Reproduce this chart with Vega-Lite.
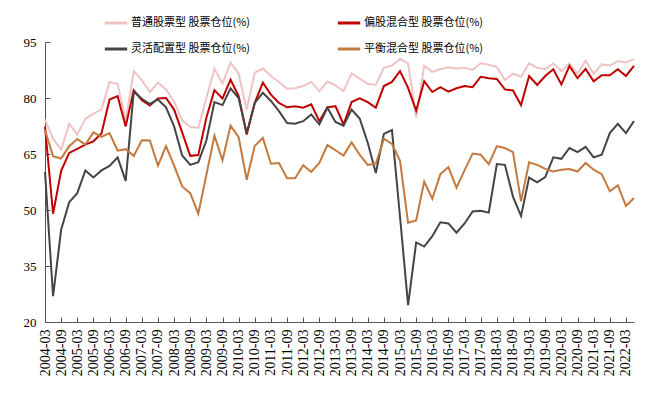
{
  "$schema": "https://vega.github.io/schema/vega-lite/v6.json",
  "width": 589,
  "height": 280,
  "autosize": {"type": "none"},
  "padding": {"left": 45, "top": 42, "right": 25, "bottom": 74},
  "background": "white",
  "data": {"values": [
    {"date":"2004-03","普通股票型":74.2,"偏股混合型":72.3,"灵活配置型":60.2,"平衡混合型":71.4},
    {"date":"2004-06","普通股票型":69.1,"偏股混合型":49.0,"灵活配置型":26.9,"平衡混合型":64.4},
    {"date":"2004-09","普通股票型":66.2,"偏股混合型":60.5,"灵活配置型":44.7,"平衡混合型":63.8},
    {"date":"2004-12","普通股票型":73.1,"偏股混合型":65.3,"灵活配置型":52.1,"平衡混合型":67.1},
    {"date":"2005-03","普通股票型":70.2,"偏股混合型":66.4,"灵活配置型":54.5,"平衡混合型":69.0},
    {"date":"2005-06","普通股票型":74.4,"偏股混合型":67.5,"灵活配置型":60.6,"平衡混合型":67.5},
    {"date":"2005-09","普通股票型":75.8,"偏股混合型":68.4,"灵活配置型":58.7,"平衡混合型":70.8},
    {"date":"2005-12","普通股票型":76.9,"偏股混合型":70.5,"灵活配置型":60.6,"平衡混合型":69.6},
    {"date":"2006-03","普通股票型":84.3,"偏股混合型":79.6,"灵活配置型":61.8,"平衡混合型":70.6},
    {"date":"2006-06","普通股票型":83.8,"偏股混合型":80.5,"灵活配置型":64.1,"平衡混合型":65.9},
    {"date":"2006-09","普通股票型":74.0,"偏股混合型":72.4,"灵活配置型":57.8,"平衡混合型":66.3},
    {"date":"2006-12","普通股票型":87.2,"偏股混合型":82.1,"灵活配置型":81.7,"平衡混合型":64.5},
    {"date":"2007-03","普通股票型":84.8,"偏股混合型":79.4,"灵活配置型":79.8,"平衡混合型":68.7},
    {"date":"2007-06","普通股票型":81.6,"偏股混合型":78.0,"灵活配置型":78.4,"平衡混合型":68.6},
    {"date":"2007-09","普通股票型":84.1,"偏股混合型":79.9,"灵活配置型":79.6,"平衡混合型":61.9},
    {"date":"2007-12","普通股票型":82.3,"偏股混合型":80.0,"灵活配置型":77.5,"平衡混合型":67.1},
    {"date":"2008-03","普通股票型":79.1,"偏股混合型":76.9,"灵活配置型":72.4,"平衡混合型":61.9},
    {"date":"2008-06","普通股票型":74.0,"偏股混合型":70.8,"灵活配置型":64.6,"平衡混合型":56.3},
    {"date":"2008-09","普通股票型":72.3,"偏股混合型":64.5,"灵活配置型":62.1,"平衡混合型":54.5},
    {"date":"2008-12","普通股票型":72.0,"偏股混合型":64.7,"灵活配置型":62.8,"平衡混合型":49.0},
    {"date":"2009-03","普通股票型":80.0,"偏股混合型":74.7,"灵活配置型":68.6,"平衡混合型":59.4},
    {"date":"2009-06","普通股票型":87.8,"偏股混合型":82.1,"灵活配置型":78.9,"平衡混合型":69.9},
    {"date":"2009-09","普通股票型":83.9,"偏股混合型":79.9,"灵活配置型":78.1,"平衡混合型":63.3},
    {"date":"2009-12","普通股票型":89.5,"偏股混合型":84.9,"灵活配置型":82.6,"平衡混合型":72.6},
    {"date":"2010-03","普通股票型":86.5,"偏股混合型":80.5,"灵活配置型":80.0,"平衡混合型":69.5},
    {"date":"2010-06","普通股票型":76.9,"偏股混合型":70.2,"灵活配置型":70.6,"平衡混合型":58.1},
    {"date":"2010-09","普通股票型":86.8,"偏股混合型":78.7,"灵活配置型":78.7,"平衡混合型":67.2},
    {"date":"2010-12","普通股票型":87.9,"偏股混合型":84.1,"灵活配置型":81.4,"平衡混合型":69.3},
    {"date":"2011-03","普通股票型":85.9,"偏股混合型":80.9,"灵活配置型":79.2,"平衡混合型":62.4},
    {"date":"2011-06","普通股票型":84.3,"偏股混合型":78.7,"灵活配置型":76.5,"平衡混合型":62.6},
    {"date":"2011-09","普通股票型":82.5,"偏股混合型":77.5,"灵活配置型":73.3,"平衡混合型":58.5},
    {"date":"2011-12","普通股票型":82.6,"偏股混合型":77.8,"灵活配置型":73.1,"平衡混合型":58.5},
    {"date":"2012-03","普通股票型":83.2,"偏股混合型":77.4,"灵活配置型":73.8,"平衡混合型":62.0},
    {"date":"2012-06","普通股票型":84.3,"偏股混合型":78.3,"灵活配置型":75.6,"平衡混合型":60.2},
    {"date":"2012-09","普通股票型":81.8,"偏股混合型":73.8,"灵活配置型":72.9,"平衡混合型":62.6},
    {"date":"2012-12","普通股票型":84.4,"偏股混合型":77.5,"灵活配置型":77.4,"平衡混合型":67.4},
    {"date":"2013-03","普通股票型":83.4,"偏股混合型":77.8,"灵活配置型":73.6,"平衡混合型":66.0},
    {"date":"2013-06","普通股票型":81.8,"偏股混合型":72.9,"灵活配置型":72.6,"平衡混合型":64.6},
    {"date":"2013-09","普通股票型":86.6,"偏股混合型":78.9,"灵活配置型":76.9,"平衡混合型":68.1},
    {"date":"2013-12","普通股票型":85.2,"偏股混合型":79.9,"灵活配置型":74.5,"平衡混合型":64.8},
    {"date":"2014-03","普通股票型":83.8,"偏股混合型":78.9,"灵活配置型":68.0,"平衡混合型":62.1},
    {"date":"2014-06","普通股票型":83.5,"偏股混合型":77.4,"灵活配置型":59.9,"平衡混合型":62.4},
    {"date":"2014-09","普通股票型":88.1,"偏股混合型":83.2,"灵活配置型":70.4,"平衡混合型":69.1},
    {"date":"2014-12","普通股票型":88.7,"偏股混合型":84.3,"灵活配置型":71.4,"平衡混合型":67.7},
    {"date":"2015-03","普通股票型":90.5,"偏股混合型":87.2,"灵活配置型":48.2,"平衡混合型":63.2},
    {"date":"2015-06","普通股票型":89.3,"偏股混合型":82.7,"灵活配置型":24.5,"平衡混合型":46.6},
    {"date":"2015-09","普通股票型":74.8,"偏股混合型":76.6,"灵活配置型":41.3,"平衡混合型":47.2},
    {"date":"2015-12","普通股票型":88.6,"偏股混合型":84.5,"灵活配置型":40.2,"平衡混合型":57.6},
    {"date":"2016-03","普通股票型":87.0,"偏股混合型":81.6,"灵活配置型":43.0,"平衡混合型":53.0},
    {"date":"2016-06","普通股票型":87.7,"偏股混合型":82.9,"灵活配置型":46.7,"平衡混合型":59.6},
    {"date":"2016-09","普通股票型":88.2,"偏股混合型":81.7,"灵活配置型":46.4,"平衡混合型":61.5},
    {"date":"2016-12","普通股票型":87.9,"偏股混合型":82.6,"灵活配置型":43.9,"平衡混合型":56.0},
    {"date":"2017-03","普通股票型":88.1,"偏股混合型":83.2,"灵活配置型":46.4,"平衡混合型":60.6},
    {"date":"2017-06","普通股票型":87.5,"偏股混合型":82.9,"灵活配置型":49.6,"平衡混合型":65.1},
    {"date":"2017-09","普通股票型":89.3,"偏股混合型":85.7,"灵活配置型":49.8,"平衡混合型":64.8},
    {"date":"2017-12","普通股票型":88.9,"偏股混合型":85.3,"灵活配置型":49.3,"平衡混合型":62.3},
    {"date":"2018-03","普通股票型":88.3,"偏股混合型":85.1,"灵活配置型":62.3,"平衡混合型":67.1},
    {"date":"2018-06","普通股票型":84.8,"偏股混合型":82.3,"灵活配置型":62.1,"平衡混合型":66.6},
    {"date":"2018-09","普通股票型":86.5,"偏股混合型":82.0,"灵活配置型":53.6,"平衡混合型":65.5},
    {"date":"2018-12","普通股票型":85.7,"偏股混合型":78.1,"灵活配置型":48.4,"平衡混合型":52.3},
    {"date":"2019-03","普通股票型":89.3,"偏股混合型":85.9,"灵活配置型":58.7,"平衡混合型":62.8},
    {"date":"2019-06","普通股票型":88.1,"偏股混合型":83.5,"灵活配置型":57.4,"平衡混合型":62.1},
    {"date":"2019-09","普通股票型":87.7,"偏股混合型":85.9,"灵活配置型":58.8,"平衡混合型":61.0},
    {"date":"2019-12","普通股票型":89.3,"偏股混合型":87.7,"灵活配置型":64.1,"平衡混合型":60.3},
    {"date":"2020-03","普通股票型":87.2,"偏股混合型":83.6,"灵活配置型":63.7,"平衡混合型":60.8},
    {"date":"2020-06","普通股票型":89.2,"偏股混合型":88.6,"灵活配置型":66.6,"平衡混合型":61.0},
    {"date":"2020-09","普通股票型":86.5,"偏股混合型":85.3,"灵活配置型":65.5,"平衡混合型":60.3},
    {"date":"2020-12","普通股票型":90.0,"偏股混合型":87.8,"灵活配置型":66.9,"平衡混合型":62.6},
    {"date":"2021-03","普通股票型":86.5,"偏股混合型":84.5,"灵活配置型":64.1,"平衡混合型":60.8},
    {"date":"2021-06","普通股票型":89.0,"偏股混合型":86.1,"灵活配置型":64.8,"平衡混合型":59.6},
    {"date":"2021-09","普通股票型":88.7,"偏股混合型":86.1,"灵活配置型":70.6,"平衡混合型":55.0},
    {"date":"2021-12","普通股票型":89.9,"偏股混合型":87.7,"灵活配置型":73.1,"平衡混合型":56.6},
    {"date":"2022-03","普通股票型":89.5,"偏股混合型":85.9,"灵活配置型":70.6,"平衡混合型":51.1},
    {"date":"2022-06","普通股票型":90.4,"偏股混合型":88.6,"灵活配置型":73.8,"平衡混合型":53.2}
  ]},
  "transform": [
    {"fold": ["普通股票型", "偏股混合型", "灵活配置型", "平衡混合型"], "as": ["series", "value"]}
  ],
  "mark": {"type": "line", "strokeWidth": 2},
  "encoding": {
    "x": {
      "field": "date", "type": "ordinal", "sort": null,
      "scale": {"type": "point", "padding": 0},
      "axis": {
        "title": null,
        "values": ["2004-03","2004-09","2005-03","2005-09","2006-03","2006-09","2007-03","2007-09","2008-03","2008-09","2009-03","2009-09","2010-03","2010-09","2011-03","2011-09","2012-03","2012-09","2013-03","2013-09","2014-03","2014-09","2015-03","2015-09","2016-03","2016-09","2017-03","2017-09","2018-03","2018-09","2019-03","2019-09","2020-03","2020-09","2021-03","2021-09","2022-03"],
        "labelAngle": -90,
        "labelFont": "Liberation Serif",
        "labelFontSize": 14,
        "labelColor": "#000000",
        "labelPadding": 12,
        "tickSize": -5,
        "tickColor": "#555555",
        "domainColor": "#555555",
        "grid": false
      }
    },
    "y": {
      "field": "value", "type": "quantitative",
      "scale": {"domain": [20, 95], "nice": false, "zero": false},
      "axis": {
        "title": null,
        "values": [20, 35, 50, 65, 80, 95],
        "labelFont": "Liberation Serif",
        "labelFontSize": 13,
        "labelColor": "#000000",
        "labelPadding": 14,
        "tickSize": -5,
        "tickColor": "#555555",
        "domainColor": "#555555",
        "grid": false
      }
    },
    "color": {
      "field": "series", "type": "nominal",
      "scale": {
        "domain": ["普通股票型", "偏股混合型", "灵活配置型", "平衡混合型"],
        "range": ["#F0C3C3", "#C00000", "#444444", "#C47A3F"]
      },
      "legend": {
        "title": null,
        "orient": "none",
        "legendX": 58,
        "legendY": -32,
        "direction": "horizontal",
        "columns": 2,
        "columnPadding": 80,
        "rowPadding": 7,
        "symbolType": "stroke",
        "symbolSize": 500,
        "symbolStrokeWidth": 3,
        "labelOffset": 2,
        "labelFont": "Noto Sans CJK SC",
        "labelFontSize": 11,
        "labelColor": "#000000",
        "labelLimit": 300,
        "labelExpr": "datum.label + ' 股票仓位(%)'"
      }
    }
  },
  "config": {"view": {"stroke": null}}
}
